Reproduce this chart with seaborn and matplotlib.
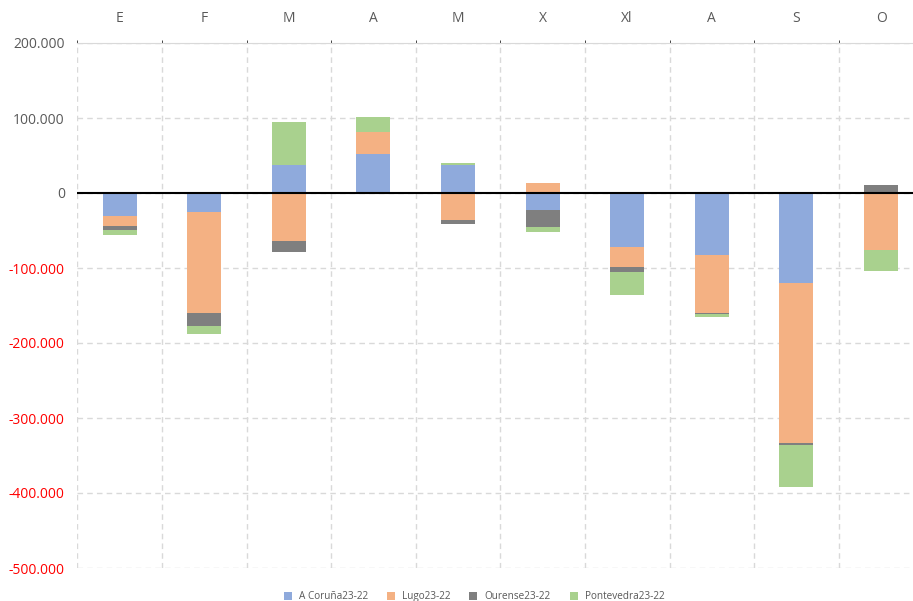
import numpy as np
import pandas as pd
import matplotlib
matplotlib.use("Agg")
import matplotlib.pyplot as plt
from matplotlib.ticker import FuncFormatter, FixedLocator
from matplotlib.lines import Line2D
import seaborn as sns

# Datos (diferencia 2023-2022 por provincia)
meses = ["E", "F", "M", "A", "M", "X", "Xl", "A", "S", "O"]
series = ["A Coruña23-22", "Lugo23-22", "Ourense23-22", "Pontevedra23-22"]
coruna = [-31000, -25000, 38000, 52000, 37000, -22000, -72000, -83000, -120500, -1500]
lugo = [-13500, -135000, -64000, 29000, -36000, 13500, -27000, -76500, -213000, -74000]
ourense = [-5000, -17000, -14000, 0, -5000, -23500, -6500, -1500, -2000, 11000]
pontevedra = [-6000, -11000, 57000, 20000, 3000, -6000, -31000, -4000, -57000, -28500]
colores = ["#8faadc", "#f4b183", "#7f7f7f", "#a9d18e"]

valores = [coruna, lugo, ourense, pontevedra]

sns.set_style("white")
plt.rcParams["font.family"] = ["Open Sans", "DejaVu Sans"]

fig = plt.figure(figsize=(9.13, 6.01), dpi=100)
ax = fig.add_axes([77.3 / 913, 33 / 601, 846 / 913, 525 / 601])

# apilado tipo Excel: positivos hacia arriba, negativos hacia abajo
pos_base = np.zeros(len(meses))
neg_base = np.zeros(len(meses))
for nombre, vals, col in zip(series, valores, colores):
    v = np.array(vals, dtype=float)
    base = np.where(v >= 0, pos_base, neg_base)
    df = pd.DataFrame({"pos": np.arange(len(meses)), "valor": v})
    sns.barplot(data=df, x="pos", y="valor", color=col, width=0.4, saturation=1,
                bottom=base, linewidth=0, errorbar=None, ax=ax, zorder=3)
    pos_base = pos_base + np.where(v > 0, v, 0)
    neg_base = neg_base + np.where(v < 0, v, 0)

ax.set_xlim(-0.5, len(meses) - 0.5)
ax.set_ylim(-500000, 200000)
ax.set_xlabel("")
ax.set_ylabel("")

# eje x arriba
ax.xaxis.tick_top()
ax.set_xticks(np.arange(len(meses)))
ax.set_xticklabels(meses, fontsize=10, color="#595959")
ax.tick_params(axis="x", length=0, pad=12)
ax.xaxis.set_minor_locator(FixedLocator(np.arange(-0.5, len(meses), 1)))
ax.grid(which="minor", axis="x", color="#d9d9d9", linestyle=(0, (4, 3)), linewidth=1)

ax.set_yticks(np.arange(-500000, 200001, 100000))
ax.yaxis.set_major_formatter(FuncFormatter(lambda v, p: f"{int(v):,}".replace(",", ".")))
ax.tick_params(axis="y", length=0, labelsize=10, pad=9)
for lab, t in zip(ax.get_yticklabels(), ax.get_yticks()):
    lab.set_color("#ff0000" if t < 0 else "#595959")
ax.grid(which="major", axis="y", color="#d9d9d9", linestyle=(0, (4, 3)), linewidth=1)
ax.set_axisbelow(True)

for s in ["left", "right", "bottom"]:
    ax.spines[s].set_visible(False)
ax.spines["top"].set_color("#d9d9d9")

ax.axhline(0, color="black", linewidth=1.5, zorder=4)

handles = [Line2D([], [], marker="s", linestyle="none", markersize=5.5,
                  markerfacecolor=c, markeredgewidth=0) for c in colores]
fig.legend(handles, series, loc="lower center", bbox_to_anchor=(471 / 913, -0.017),
           ncol=4, frameon=False, fontsize=7.2, handletextpad=0.1, columnspacing=1.3,
           labelcolor="#595959")

fig.savefig("out.png", dpi=100)
